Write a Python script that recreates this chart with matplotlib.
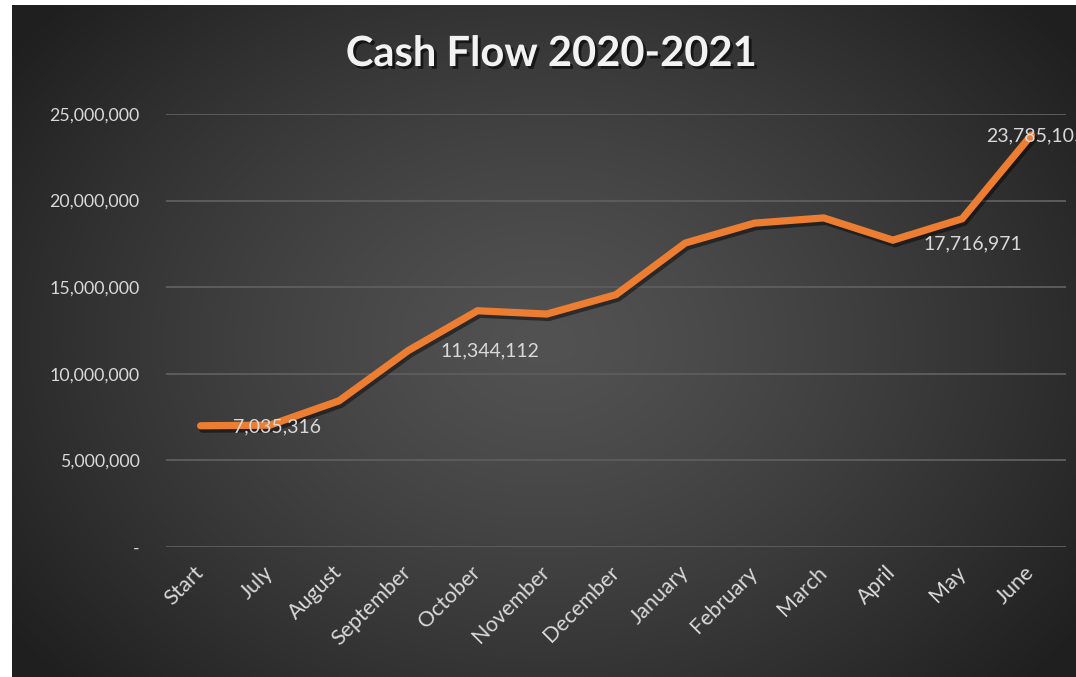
import numpy as np
import matplotlib
matplotlib.use("Agg")
import matplotlib.pyplot as plt
import matplotlib.patheffects as pe
from matplotlib.ticker import FuncFormatter

categories = ["Start", "July", "August", "September", "October", "November",
              "December", "January", "February", "March", "April", "May", "June"]
values = [7000000, 7035316, 8440000, 11344112, 13640000, 13450000,
          14570000, 17550000, 18700000, 19000000, 17716971, 18950000, 23785105]
labeled = ["July", "September", "April", "June"]
label_offsets = {"July": (7, -2), "September": (82, 0), "April": (80, -4), "June": (4, -1)}
title = "Cash Flow 2020-2021"
yticks = [0, 5000000, 10000000, 15000000, 20000000, 25000000]

plt.rcParams['font.family'] = ['Lato', 'DejaVu Sans']
W, H = 1076, 677
fig = plt.figure(figsize=(W / 100, H / 100), dpi=100)
fig.patch.set_facecolor("white")

# background radial gradient panel
bg = fig.add_axes([12 / W, 0, 1 - 12 / W, 1 - 5 / H])
bg.set_axis_off()
ny, nx = 300, 480
yy, xx = np.mgrid[0:ny, 0:nx]
cx, cy = nx * 0.5, ny * 0.5
r = np.sqrt(((xx - cx) / (nx * 0.62)) ** 2 + ((yy - cy) / (ny * 0.75)) ** 2)
r = np.clip(r, 0, 1)
inner, outer = 0x52 / 255, 0x1f / 255
g = inner + (outer - inner) * r ** 1.3
img = np.dstack([g, g, g])
bg.imshow(img, aspect="auto", extent=[0, 1, 0, 1], origin="upper")
bg.set_xlim(0, 1)
bg.set_ylim(0, 1)

ax = fig.add_axes([166 / W, (H - 547) / H, 900 / W, (547 - 114) / H])
ax.patch.set_alpha(0)
x = np.arange(len(categories))
ax.plot(x, values, color="#ED7D31", lw=5.2, solid_capstyle="round", solid_joinstyle="miter",
        path_effects=[pe.SimpleLineShadow(offset=(1.5, -2.5), shadow_color="black", alpha=0.45),
                      pe.Normal()], zorder=3)
ax.set_xlim(-0.5, len(categories) - 0.5)
ax.set_ylim(0, 25000000)
ax.set_yticks(yticks)
ax.yaxis.set_major_formatter(FuncFormatter(lambda v, p: "-" if v == 0 else f"{int(v):,}"))
ax.grid(axis="y", color="#5c5c5c", lw=1.4)
ax.set_axisbelow(True)
for s in ax.spines.values():
    s.set_visible(False)
ax.tick_params(axis="y", length=0, colors="#d9d9d9", labelsize=12.8, pad=19)
ax.set_xticks(x)
ax.set_xticklabels(categories, rotation=45, ha="right", va="center", rotation_mode="anchor",
                   fontsize=15.5, color="#d9d9d9")
ax.tick_params(axis="x", length=0, pad=16)

for name in labeled:
    i = categories.index(name)
    dx, dy = label_offsets[name]
    ax.annotate(f"{values[i]:,}", (i, values[i]), xytext=(dx, dy), textcoords="offset pixels",
                ha="center", va="center", color="#d9d9d9", fontsize=14, zorder=4,
                annotation_clip=False)

fig.text(551 / W, 1 - 54 / H, title, ha="center", va="center", color="#f2f2f2",
         fontsize=30, fontweight="bold",
         path_effects=[pe.SimplePatchShadow(offset=(2, -2), shadow_rgbFace="black", alpha=0.6),
                       pe.Normal()])

fig.savefig("out.png", dpi=100)
